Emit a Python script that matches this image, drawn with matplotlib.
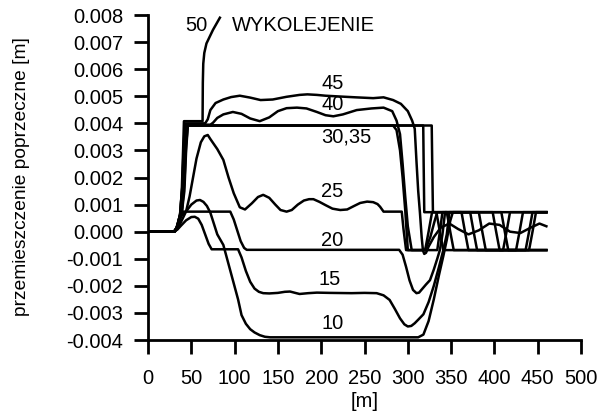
import numpy as np
import matplotlib
matplotlib.use('Agg')
import matplotlib.pyplot as plt
from matplotlib.ticker import FormatStrFormatter

plt.rcParams['font.family'] = ['Liberation Sans', 'DejaVu Sans']
plt.rcParams['axes.unicode_minus'] = False

# distance [m] and lateral displacement [mm], one pair per speed
x10 = [0, 30, 34, 38, 44, 50, 56, 60, 64, 68, 72, 80, 87, 93, 98.5, 104, 108, 113, 118, 123, 129, 135, 141,
       200, 260, 300, 312, 318, 324, 330, 336, 341, 345, 349, 352, 460]
y10 = [0, 0, 0.1, 0.35, 0.75, 1.0, 1.15, 1.17, 1.1, 0.95, 0.7, -0.1, -0.49, -1.2, -1.85, -2.5, -3.08, -3.4,
       -3.6, -3.72, -3.82, -3.88, -3.9, -3.9, -3.9, -3.9, -3.9, -3.8, -3.3, -2.5, -1.6, -0.9, -0.3, 0.4, 0.72,
       0.72]

x15 = [0, 30, 34, 38, 44, 50, 54, 58, 62, 66, 70, 73.5, 104, 108, 113, 118, 123, 128, 133, 140, 150, 158, 164,
       170, 175, 185, 195, 210, 235, 250, 264, 272, 279, 285, 291, 296, 300, 304, 308, 312, 318, 324, 330, 336,
       341, 345, 348, 382, 386, 390, 425, 429, 433, 460]
y15 = [0, 0, 0.08, 0.22, 0.42, 0.54, 0.55, 0.48, 0.25, -0.1, -0.45, -0.65, -0.65, -0.95, -1.45, -1.85, -2.1,
       -2.22, -2.27, -2.28, -2.26, -2.22, -2.21, -2.26, -2.3, -2.27, -2.25, -2.26, -2.27, -2.26, -2.27, -2.35,
       -2.52, -2.85, -3.2, -3.42, -3.5, -3.48, -3.38, -3.25, -3.05, -2.6, -2.0, -1.3, -0.68, -0.1, 0.72,
       0.72, 0.0, -0.68, -0.68, 0.0, 0.72, 0.72]

x20 = [0, 30, 33, 36, 38, 95, 99, 103, 107, 111, 114, 290, 294, 298, 302, 306, 310, 313, 317, 321, 325.6,
       330, 334, 337, 340, 343, 362, 366, 370, 460]
y20 = [0, 0, 0.15, 0.5, 0.74, 0.74, 0.45, 0.05, -0.35, -0.6, -0.67, -0.67, -0.85, -1.3, -1.8, -2.15, -2.27,
       -2.25, -2.1, -1.95, -1.79, -1.4, -1.0, -0.68, -0.1, 0.72, 0.72, 0.0, -0.68, -0.68]

x25 = [0, 30, 33, 36, 39, 44, 48, 52, 56, 61, 65, 69, 72, 80, 87, 93, 99, 106, 112, 120, 127, 133, 140, 147,
       153, 160, 166, 173, 180, 186, 191, 198, 205, 213, 222, 230, 238, 245, 253, 260, 265, 268, 272, 293, 295,
       298, 334, 337, 340, 398, 402, 406, 440, 444, 448, 460]
y25 = [0, 0, 0.12, 0.38, 0.6, 0.75, 1.3, 2.0, 2.7, 3.3, 3.52, 3.57, 3.42, 3.05, 2.65, 2.0, 1.42, 0.9, 0.82,
       1.05, 1.28, 1.36, 1.25, 1.0, 0.8, 0.74, 0.8, 1.0, 1.15, 1.2, 1.2, 1.1, 0.98, 0.85, 0.8, 0.82, 0.95, 1.06,
       1.11, 1.09, 1.02, 0.92, 0.74, 0.74, 0.1, -0.68, -0.68, 0.0, 0.72, 0.72, 0.0, -0.68, -0.68, 0.0, 0.72,
       0.72]

x30 = [0, 30, 33, 36, 39, 42, 44, 46, 283, 287, 291, 294, 297, 300, 320, 324, 328, 408, 412, 416, 460]
y30 = [0, 0, 0.14, 0.45, 0.7, 1.8, 3.2, 3.92, 3.92, 3.75, 3.0, 2.0, 0.8, -0.68, -0.68, 0.0, 0.72, 0.72, 0.0,
       -0.68, -0.68]

x35 = [0, 30, 33, 36, 39, 41.5, 43.5, 45, 317.8, 318.3, 319, 333, 337, 341, 410, 414, 418, 460]
y35 = [0, 0, 0.14, 0.5, 0.72, 2.0, 3.4, 3.92, 3.92, 2.5, 0.72, 0.72, 0.0, -0.68, -0.68, 0.0, 0.72, 0.72]

# unlabelled line that leaves the 0.004 plateau last
x_pl = [0, 30, 33, 36, 39, 42, 44, 46, 327.6, 328.2, 329, 345, 349, 353, 460]
y_pl = [0, 0, 0.12, 0.42, 0.7, 1.5, 3.0, 3.92, 3.92, 2.5, 0.72, 0.72, 0.0, -0.68, -0.68]

x40 = [0, 31, 34, 37, 39.7, 41.3, 43, 72, 75, 80, 87, 98, 108, 118, 129, 140, 150, 160, 172, 183, 195, 205, 214,
       225, 241, 258, 272, 282, 287, 291, 294, 297, 300, 304.5, 320, 326, 331, 334, 372, 376, 380, 436, 440,
       444, 460]
y40 = [0, 0, 0.2, 0.65, 1.7, 3.0, 3.95, 3.95, 4.02, 4.2, 4.33, 4.42, 4.35, 4.18, 4.08, 4.22, 4.45, 4.56, 4.58,
       4.55, 4.42, 4.3, 4.26, 4.33, 4.49, 4.55, 4.58, 4.45, 4.1, 3.6, 2.5, 1.3, 0.2, -0.68, -0.68, -0.2, 0.4,
       0.72, 0.72, 0.0, -0.68, -0.68, 0.0, 0.72, 0.72]

x45 = [0, 31, 34, 37, 39.5, 41, 42.5, 66, 69, 72, 78, 87, 96, 106, 118, 130, 144, 160, 175, 184, 195, 205, 222,
       240, 260, 272, 283, 292, 300, 305, 308, 310, 312, 314, 316, 317.5, 319, 321, 324, 330, 338, 348, 358,
       370, 382, 394, 406, 418, 430, 442, 452, 460]
y45 = [0, 0, 0.2, 0.62, 1.6, 3.0, 4.0, 4.0, 4.15, 4.49, 4.75, 4.88, 4.97, 5.02, 4.95, 4.86, 4.88, 4.98, 5.05,
       5.07, 5.05, 5.02, 4.99, 4.96, 4.93, 4.96, 4.86, 4.72, 4.45, 4.1, 3.8, 2.6, 1.5, 0.7, -0.2, -0.7, -0.82,
       -0.78, -0.55, -0.2, 0.15, 0.3, 0.1, -0.1, 0.05, 0.3, 0.25, 0.0, -0.05, 0.15, 0.3, 0.2]

x50 = [0, 31, 34, 37, 39, 40.5, 41.5, 63, 63.3, 63.8, 65, 67.5, 75, 83]
y50 = [0, 0, 0.2, 0.6, 1.5, 3.0, 4.08, 4.08, 5.5, 6.2, 6.6, 6.95, 7.45, 7.9]

curves = [(x10, y10), (x15, y15), (x20, y20), (x25, y25), (x30, y30), (x35, y35),
          (x_pl, y_pl), (x40, y40), (x45, y45), (x50, y50)]

labels = ['50', 'WYKOLEJENIE', '45', '40', '30,35', '25', '20', '15', '10']
label_x = [55.4, 96.6, 213, 213, 228.5, 213, 213, 210, 213]
label_y = [7.61, 7.61, 5.48, 4.68, 3.51, 1.48, -0.31, -1.78, -3.38]

x_ticks = np.arange(0, 501, 50)
y_ticks = np.arange(-0.004, 0.0081, 0.001)

fig = plt.figure(figsize=(5.98, 4.11), dpi=100)
ax = fig.add_axes([0.2475, 0.1727, 0.7241, 0.7908])

for xs, ys in curves:
    ax.plot(xs, np.array(ys) * 1e-3, color='black', lw=1.8, solid_joinstyle='round')

for i, t in enumerate(labels):
    ha = 'left' if t == 'WYKOLEJENIE' else 'center'
    ax.text(label_x[i], label_y[i] * 1e-3, t, ha=ha, va='center', fontsize=14.5)

ax.set_xlim(0, 500)
ax.set_ylim(-0.004, 0.008)
ax.set_xticks(x_ticks)
ax.set_yticks(y_ticks)
ax.yaxis.set_major_formatter(FormatStrFormatter('%.3f'))

for s in ['top', 'right']:
    ax.spines[s].set_visible(False)
for s in ['left', 'bottom']:
    ax.spines[s].set_linewidth(2)
ax.tick_params(axis='both', direction='out', length=10, width=2, labelsize=14.5)
ax.tick_params(axis='x', pad=11)
ax.tick_params(axis='y', pad=8)

ax.set_xlabel('[m]', fontsize=14.5)
ax.xaxis.set_label_coords(0.501, -0.16)
fig.text(22 / 598, 1 - 176.7 / 411, 'przemieszczenie poprzeczne [m]', rotation=90,
         ha='center', va='center', fontsize=13.8)

fig.savefig('out.png', dpi=100)
